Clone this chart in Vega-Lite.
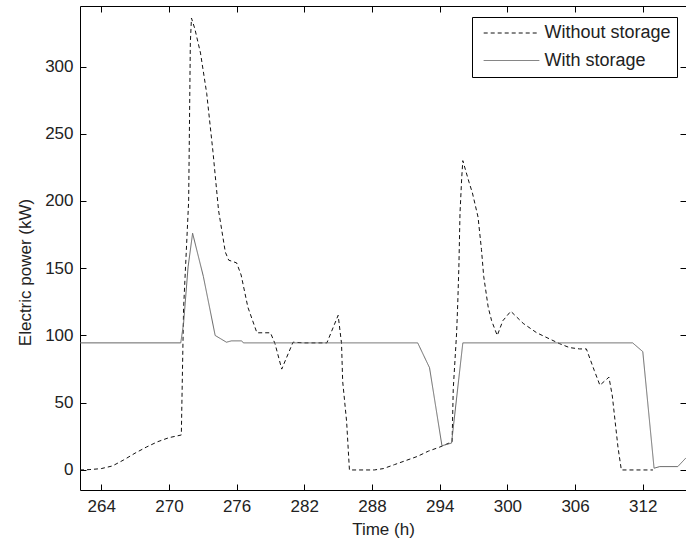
{
  "$schema": "https://vega.github.io/schema/vega-lite/v6.json",
  "width": 606,
  "height": 484,
  "autosize": {"type": "none"},
  "padding": {"left": 80, "top": 6, "right": 0, "bottom": 52},
  "background": "white",
  "config": {
    "view": {"stroke": null},
    "font": "Liberation Sans",
    "axis": {
      "grid": false,
      "labelFont": "Liberation Sans",
      "labelFontSize": 17,
      "labelColor": "#222",
      "titleFont": "Liberation Sans",
      "titleFontSize": 17,
      "titleFontWeight": "normal",
      "titleColor": "#222",
      "domainColor": "#000",
      "tickColor": "#000",
      "tickSize": -6
    },
    "legend": {
      "orient": "none",
      "legendX": 392,
      "legendY": 11,
      "symbolType": "stroke",
      "symbolSize": 3091,
      "symbolStrokeWidth": 1,
      "clipHeight": 20,
      "rowPadding": 7.5,
      "padding": 6,
      "symbolOffset": 5,
      "labelOffset": 4.4,
      "labelFontSize": 18,
      "labelFont": "Liberation Sans",
      "labelColor": "#222",
      "strokeColor": "#000",
      "fillColor": "#fff",
      "cornerRadius": 0
    }
  },
  "data": {
    "values": [
      {"t": 262.12, "p": 0, "s": "Without storage"},
      {"t": 263, "p": 0.3, "s": "Without storage"},
      {"t": 264, "p": 1, "s": "Without storage"},
      {"t": 265, "p": 3, "s": "Without storage"},
      {"t": 266, "p": 7.5, "s": "Without storage"},
      {"t": 267, "p": 12.5, "s": "Without storage"},
      {"t": 268, "p": 17, "s": "Without storage"},
      {"t": 269, "p": 21, "s": "Without storage"},
      {"t": 270, "p": 24, "s": "Without storage"},
      {"t": 271.1, "p": 26, "s": "Without storage"},
      {"t": 271.3, "p": 120, "s": "Without storage"},
      {"t": 271.75, "p": 200, "s": "Without storage"},
      {"t": 271.9, "p": 318, "s": "Without storage"},
      {"t": 272.0, "p": 336, "s": "Without storage"},
      {"t": 272.3, "p": 328, "s": "Without storage"},
      {"t": 272.8, "p": 310, "s": "Without storage"},
      {"t": 273.35, "p": 280, "s": "Without storage"},
      {"t": 273.9, "p": 237, "s": "Without storage"},
      {"t": 274.4, "p": 193, "s": "Without storage"},
      {"t": 275, "p": 162, "s": "Without storage"},
      {"t": 275.3, "p": 156, "s": "Without storage"},
      {"t": 276, "p": 154, "s": "Without storage"},
      {"t": 276.4, "p": 145, "s": "Without storage"},
      {"t": 277, "p": 121, "s": "Without storage"},
      {"t": 277.8, "p": 102, "s": "Without storage"},
      {"t": 279, "p": 102, "s": "Without storage"},
      {"t": 279.4, "p": 94, "s": "Without storage"},
      {"t": 280, "p": 75, "s": "Without storage"},
      {"t": 281, "p": 95, "s": "Without storage"},
      {"t": 282, "p": 94.5, "s": "Without storage"},
      {"t": 283, "p": 94.5, "s": "Without storage"},
      {"t": 284, "p": 94.5, "s": "Without storage"},
      {"t": 285, "p": 115, "s": "Without storage"},
      {"t": 285.3, "p": 94, "s": "Without storage"},
      {"t": 285.4, "p": 66, "s": "Without storage"},
      {"t": 285.75, "p": 36, "s": "Without storage"},
      {"t": 286, "p": 0, "s": "Without storage"},
      {"t": 288.2, "p": 0, "s": "Without storage"},
      {"t": 289, "p": 1, "s": "Without storage"},
      {"t": 290, "p": 4, "s": "Without storage"},
      {"t": 291, "p": 7, "s": "Without storage"},
      {"t": 292, "p": 10, "s": "Without storage"},
      {"t": 293, "p": 14, "s": "Without storage"},
      {"t": 294, "p": 17, "s": "Without storage"},
      {"t": 295.1, "p": 21, "s": "Without storage"},
      {"t": 295.2, "p": 60, "s": "Without storage"},
      {"t": 295.5, "p": 102, "s": "Without storage"},
      {"t": 295.6, "p": 124, "s": "Without storage"},
      {"t": 295.7, "p": 151, "s": "Without storage"},
      {"t": 295.8, "p": 191, "s": "Without storage"},
      {"t": 295.95, "p": 217, "s": "Without storage"},
      {"t": 296.05, "p": 230, "s": "Without storage"},
      {"t": 296.6, "p": 214, "s": "Without storage"},
      {"t": 296.9, "p": 206, "s": "Without storage"},
      {"t": 297.4, "p": 188, "s": "Without storage"},
      {"t": 297.7, "p": 164, "s": "Without storage"},
      {"t": 297.9, "p": 144, "s": "Without storage"},
      {"t": 298.3, "p": 121, "s": "Without storage"},
      {"t": 298.6, "p": 111, "s": "Without storage"},
      {"t": 299.1, "p": 100, "s": "Without storage"},
      {"t": 299.6, "p": 111, "s": "Without storage"},
      {"t": 300.3, "p": 118, "s": "Without storage"},
      {"t": 301.4, "p": 109, "s": "Without storage"},
      {"t": 302.6, "p": 102, "s": "Without storage"},
      {"t": 303.6, "p": 98, "s": "Without storage"},
      {"t": 304.6, "p": 94, "s": "Without storage"},
      {"t": 305.5, "p": 91, "s": "Without storage"},
      {"t": 306.4, "p": 90, "s": "Without storage"},
      {"t": 307, "p": 90, "s": "Without storage"},
      {"t": 307.7, "p": 74, "s": "Without storage"},
      {"t": 308.2, "p": 63, "s": "Without storage"},
      {"t": 309, "p": 69, "s": "Without storage"},
      {"t": 309.3, "p": 55, "s": "Without storage"},
      {"t": 309.8, "p": 17, "s": "Without storage"},
      {"t": 310.1, "p": 0, "s": "Without storage"},
      {"t": 312.9, "p": 0, "s": "Without storage"},
      {"t": 262.12, "p": 94.5, "s": "With storage"},
      {"t": 271.05, "p": 94.5, "s": "With storage"},
      {"t": 271.3, "p": 109, "s": "With storage"},
      {"t": 271.7, "p": 151, "s": "With storage"},
      {"t": 272.1, "p": 176, "s": "With storage"},
      {"t": 273.05, "p": 144, "s": "With storage"},
      {"t": 273.6, "p": 121, "s": "With storage"},
      {"t": 274.1, "p": 100, "s": "With storage"},
      {"t": 275.1, "p": 95, "s": "With storage"},
      {"t": 275.55, "p": 96, "s": "With storage"},
      {"t": 276.45, "p": 96, "s": "With storage"},
      {"t": 276.6, "p": 94.5, "s": "With storage"},
      {"t": 292.05, "p": 94.5, "s": "With storage"},
      {"t": 293.1, "p": 76, "s": "With storage"},
      {"t": 294.2, "p": 18, "s": "With storage"},
      {"t": 295.05, "p": 20, "s": "With storage"},
      {"t": 296.05, "p": 94.5, "s": "With storage"},
      {"t": 311.1, "p": 94.5, "s": "With storage"},
      {"t": 312, "p": 88, "s": "With storage"},
      {"t": 313, "p": 1.3, "s": "With storage"},
      {"t": 313.5, "p": 2.5, "s": "With storage"},
      {"t": 315.1, "p": 2.5, "s": "With storage"},
      {"t": 315.83, "p": 9, "s": "With storage"}
    ]
  },
  "layer": [
    {
      "mark": {"type": "line", "strokeWidth": 1, "clip": true},
      "encoding": {
        "x": {
          "field": "t", "type": "quantitative",
          "scale": {"domain": [262.12, 315.83], "nice": false, "zero": false},
          "axis": {
            "orient": "bottom",
            "values": [264, 270, 276, 282, 288, 294, 300, 306, 312],
            "title": "Time (h)",
            "labelBaseline": "alphabetic",
            "labelPadding": 27.5,
            "titleBaseline": "alphabetic",
            "titleY": 44
          }
        },
        "y": {
          "field": "p", "type": "quantitative",
          "scale": {"domain": [-14.9, 345], "nice": false, "zero": false},
          "axis": {
            "orient": "left",
            "values": [0, 50, 100, 150, 200, 250, 300],
            "title": "Electric power (kW)",
            "labelPadding": 13,
            "titleBaseline": "alphabetic",
            "titleAngle": -90,
            "titleX": -50,
            "titleY": 266
          }
        },
        "stroke": {
          "field": "s", "type": "nominal",
          "scale": {"domain": ["Without storage", "With storage"], "range": ["#111111", "#666666"]},
          "legend": {"title": null}
        },
        "strokeDash": {
          "field": "s", "type": "nominal",
          "scale": {"domain": ["Without storage", "With storage"], "range": [[4, 3], [1, 0]]},
          "legend": {"title": null}
        }
      }
    },
    {
      "mark": {"type": "point", "opacity": 0},
      "encoding": {
        "x": {
          "field": "t", "type": "quantitative",
          "axis": {"orient": "top", "values": [264, 270, 276, 282, 288, 294, 300, 306, 312], "labels": false, "title": null}
        },
        "y": {
          "field": "p", "type": "quantitative",
          "axis": {"orient": "right", "values": [0, 50, 100, 150, 200, 250, 300], "labels": false, "title": null}
        }
      }
    }
  ],
  "resolve": {"axis": {"x": "independent", "y": "independent"}}
}
